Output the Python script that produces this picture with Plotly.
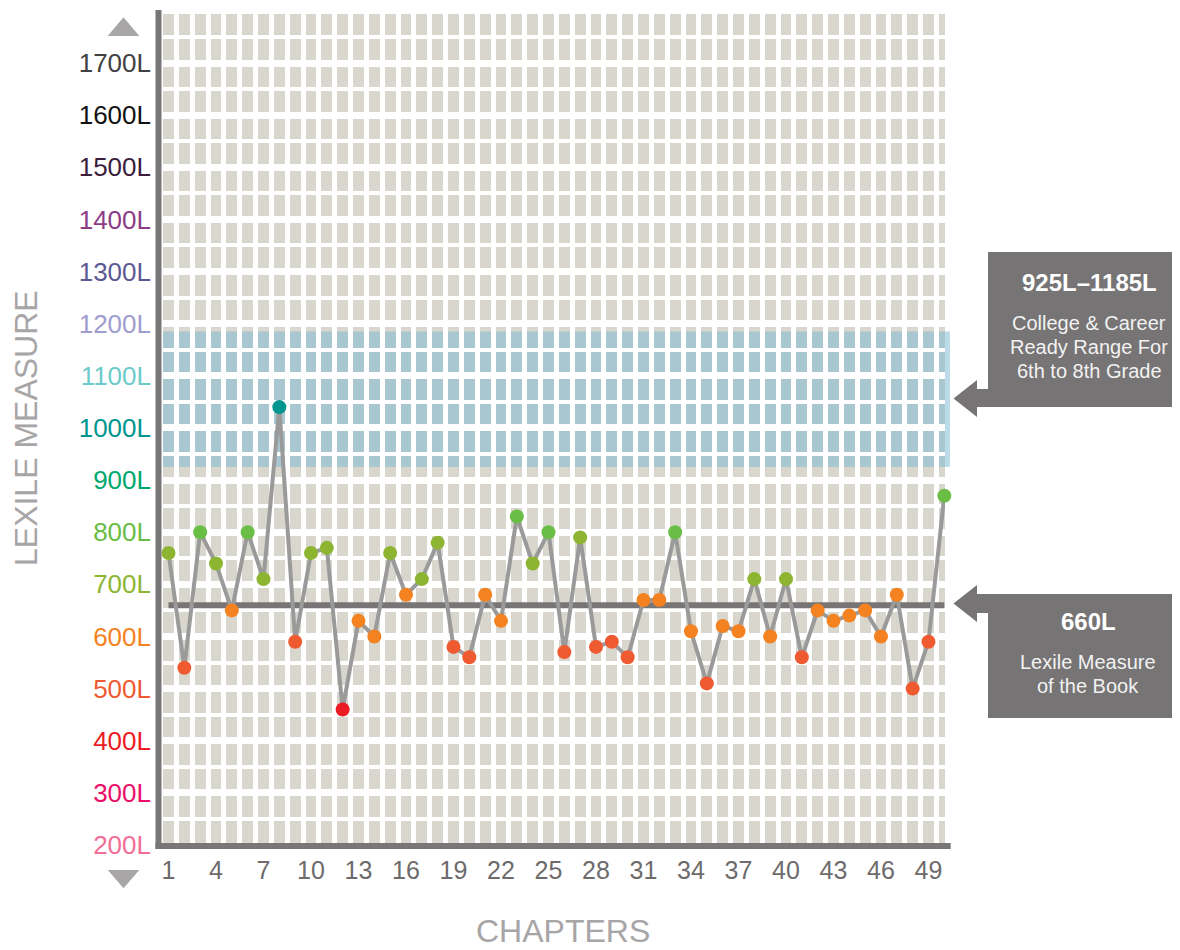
import plotly.graph_objects as go

# ---------------- data ----------------
chapters = list(range(1, 51))
lexile = [760, 540, 800, 740, 650, 800, 710, 1040, 590, 760,
          770, 460, 630, 600, 760, 680, 710, 780, 580, 560,
          680, 630, 830, 740, 800, 570, 790, 580, 590, 560,
          670, 670, 800, 610, 510, 620, 610, 710, 600, 710,
          560, 650, 630, 640, 650, 600, 680, 500, 590, 870]

book_measure = 660
ready_range = [925, 1185]

y_tick_levels = [200, 300, 400, 500, 600, 700, 800, 900, 1000,
                 1100, 1200, 1300, 1400, 1500, 1600, 1700]
level_colors = ["#f26d97", "#ec0f6a", "#ec1c24", "#f05a30", "#f58220",
                "#8db531", "#6abd45", "#00a76d", "#00958f", "#6dcbcb",
                "#9f9dce", "#5b5a94", "#8b3c86", "#3c1e3c", "#111111", "#414042"]

# ---------------- geometry ----------------
# All positions below are given in page pixels; the page body has an 8px margin.
OFF = 8
FIG_W, FIG_H = 1180 - OFF, 950 - OFF
L, R_EDGE, T, B_EDGE = 158, 945, 8, 845          # plot area in page pixels
W, H = R_EDGE - L, B_EDGE - T
PITCH = 15.833
X_MIN = 1 - (168.5 - L) / PITCH
X_MAX = X_MIN + W / PITCH
K = 0.521333
Y_MAX = 200 + H / K


def px_x(px):
    return (px - L) / W


def px_y(py):
    return (B_EDGE - py) / H


def level_color(v):
    lvl = int(v // 100) * 100
    return level_colors[y_tick_levels.index(lvl)]


marker_colors = [level_color(v) for v in lexile]

fig = go.Figure()

fig.add_trace(go.Scatter(
    x=chapters, y=lexile, mode="lines+markers",
    line=dict(color="#9a9a9a", width=4),
    marker=dict(color=marker_colors, size=14, line=dict(width=0)),
    cliponaxis=False, showlegend=False, hoverinfo="x+y",
))

shapes = []
shapes.append(dict(type="rect", xref="paper", yref="y", layer="between",
                   x0=px_x(161.7), x1=px_x(950), y0=ready_range[0], y1=ready_range[1],
                   fillcolor="rgba(120,183,212,0.5)", line=dict(width=0)))
shapes.append(dict(type="line", xref="x", yref="y", layer="between",
                   x0=chapters[0], x1=chapters[-1], y0=book_measure, y1=book_measure,
                   line=dict(color="#777575", width=6)))
AX_COL = "#787676"
shapes.append(dict(type="line", xref="paper", yref="paper",
                   x0=px_x(158.5), x1=px_x(158.5), y0=px_y(10), y1=px_y(849),
                   line=dict(color=AX_COL, width=6)))
shapes.append(dict(type="line", xref="paper", yref="paper",
                   x0=px_x(155.5), x1=px_x(950.7), y0=px_y(846), y1=px_y(846),
                   line=dict(color=AX_COL, width=6)))
TRI = "#a8a6a7"
shapes.append(dict(type="path", xref="paper", yref="paper",
                   path=f"M {px_x(107.7)} {px_y(36)} L {px_x(139.3)} {px_y(36)} L {px_x(123.5)} {px_y(17.3)} Z",
                   fillcolor=TRI, line=dict(width=0)))
shapes.append(dict(type="path", xref="paper", yref="paper",
                   path=f"M {px_x(107.7)} {px_y(870)} L {px_x(139.3)} {px_y(870)} L {px_x(123.5)} {px_y(888.3)} Z",
                   fillcolor=TRI, line=dict(width=0)))

BOX = "#767474"


def callout(top, bottom, shaft_top, shaft_bot, head_top, head_bot, tip_y):
    pts = [(988, top), (1190, top), (1190, bottom)]
    pts += [(988, bottom)] if shaft_bot < bottom else []
    pts += [(988, shaft_bot), (977, shaft_bot), (977, head_bot), (953.5, tip_y),
            (977, head_top), (977, shaft_top), (988, shaft_top)]
    path = "M " + " L ".join(f"{px_x(a)} {px_y(b)}" for a, b in pts) + " Z"
    return dict(type="path", xref="paper", yref="paper", path=path,
                fillcolor=BOX, line=dict(width=0))


shapes.append(callout(252, 407, 389, 407, 380, 417, 398.5))
shapes.append(callout(594, 718, 594, 613, 585, 622, 603.5))

annotations = []
FONT = "Liberation Sans, Arial, sans-serif"


def note(text, px, py, size, color, bold=False, angle=0):
    annotations.append(dict(
        text=f"<b>{text}</b>" if bold else text, x=px_x(px), y=px_y(py),
        xref="paper", yref="paper", showarrow=False,
        xanchor="center", yanchor="middle", textangle=angle,
        font=dict(family=FONT, size=size, color=color)))


note("925L\u20131185L", 1089, 283, 24, "#ffffff", bold=True)
note("College &amp; Career", 1089, 323, 20, "#f2f2f2")
note("Ready Range For", 1089, 347, 20, "#f2f2f2")
note("6th to 8th Grade", 1089, 371, 20, "#f2f2f2")
note("660L", 1088, 621, 24, "#ffffff", bold=True)
note("Lexile Measure", 1088, 662, 20, "#f2f2f2")
note("of the Book", 1088, 686, 20, "#f2f2f2")

note("LEXILE MEASURE", 26, 428, 32, "#a7a5a6", angle=-90)
note("CHAPTERS", 563, 931, 32, "#a7a5a6")

alias = {str(v): f"<span style='color:{c}'>{v}L</span>" for v, c in zip(y_tick_levels, level_colors)}
alias["1800"] = ""

fig.update_layout(
    width=FIG_W, height=FIG_H,
    margin=dict(l=L - OFF, r=FIG_W - (R_EDGE - OFF), t=T - OFF if T > OFF else 0,
                b=FIG_H - (B_EDGE - OFF), autoexpand=False),
    paper_bgcolor="white", plot_bgcolor="#d9d7cd",
    shapes=shapes, annotations=annotations,
    font=dict(family=FONT),
    xaxis=dict(range=[X_MIN, X_MAX], tickmode="linear", tick0=1, dtick=3,
               showgrid=False, zeroline=False, showline=False, ticks="",
               ticklabelstandoff=8,
               tickfont=dict(family=FONT, size=25, color="#6d6b6b"),
               minor=dict(tickmode="linear", tick0=0.5, dtick=1, showgrid=True,
                          gridcolor="white", gridwidth=5, ticks=""),
               fixedrange=True),
    yaxis=dict(range=[200, Y_MAX], tickmode="linear", tick0=200, dtick=100,
               showgrid=True, gridcolor="white", gridwidth=6.5,
               zeroline=False, showline=False, ticks="",
               ticklabelstandoff=6, labelalias=alias,
               tickfont=dict(family=FONT, size=26, color="#444"),
               minor=dict(tickmode="linear", tick0=200, dtick=50, showgrid=True,
                          gridcolor="white", gridwidth=4, ticks=""),
               fixedrange=True),
)

fig.write_html("out.html")
